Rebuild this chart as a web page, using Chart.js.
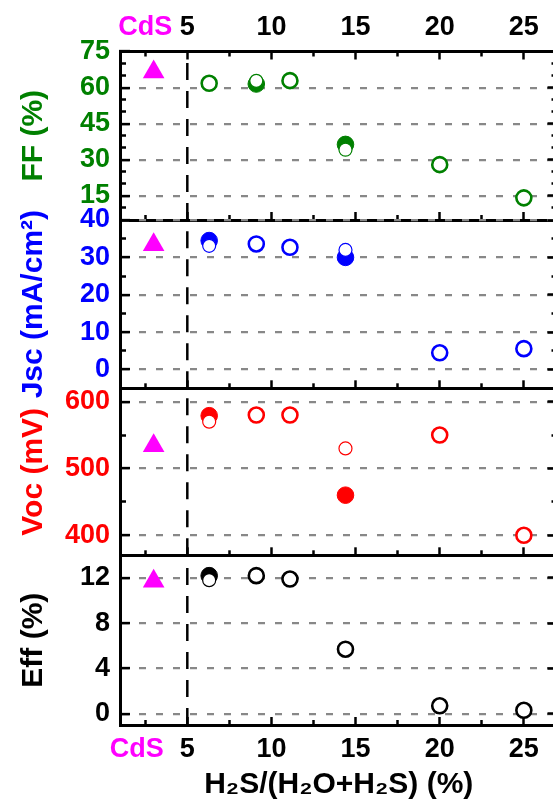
<!DOCTYPE html>
<html>
<head>
<meta charset="utf-8">
<script src="https://cdn.jsdelivr.net/npm/chart.js@4.4.0/dist/chart.umd.min.js"></script>
<style>
  html, body { margin: 0; padding: 0; background: #fff; overflow: hidden; width: 553px; height: 805px; }
  canvas { position: absolute; left: 0; top: 0; }
</style>
</head>
<body>
<canvas id="ffChart" width="570" height="805"></canvas>
<canvas id="jscChart" width="570" height="805"></canvas>
<canvas id="vocChart" width="570" height="805"></canvas>
<canvas id="effChart" width="570" height="805"></canvas>
<script>
// sample positions, H2S/(H2O+H2S) in %
const xPos = [6.3, 9.1, 11.1, 14.4, 20, 25];
const cdsX = 3;       // CdS reference, left of the cut
const cutX = 5;

// FF (%)
const ffOpen   = [61.8, null, 62.9, null, 28, 14.2];
const ffFilled = [null, 61.5, null, 36.4, null, null];
const ffThin   = [null, 62.8, null, 34.2, null, null];
const ffCdS = 66.5;

// Jsc (mA/cm2)
const jscOpen   = [null, 33.6, 32.7, null, 4.5, 5.6];
const jscFilled = [34.5, null, null, 30.0, null, null];
const jscThin   = [33.1, null, null, 32.0, null, null];
const jscCdS = 33.4;

// Voc (mV)
const vocOpen   = [null, 580, 580, null, 550, 400];
const vocFilled = [579, null, null, 460, null, null];
const vocThin   = [570, null, null, 530, null, null];
const vocCdS = 534;

// Eff (%)
const effOpen   = [null, 12.2, 11.9, 5.7, 0.7, 0.3];
const effFilled = [12.2, null, null, null, null, null];
const effThin   = [11.8, null, null, null, null, null];
const effCdS = 11.7;

// ticks
const xMajor = [5, 10, 15, 20, 25];
const xMinor = [2.5, 7.5, 12.5, 17.5, 22.5];
const cdsTopX = 2.5, cdsBottomX = 2;
const ffTicks = [15, 30, 45, 60, 75],  ffMinor = [10, 20, 25, 35, 40, 50, 55, 65, 70];
const jscTicks = [0, 10, 20, 30, 40],  jscMinor = [5, 15, 25, 35];
const vocTicks = [400, 500, 600],      vocMinor = [450, 550];
const effTicks = [0, 4, 8, 12],        effMinor = [];

const W = 570, H = 805;
const PLOT_LEFT = 120, PLOT_RIGHT = 559.5;
const MAGENTA = "#ff00ff";
const NONE = "rgba(0,0,0,0)";

Chart.defaults.font.family = "'Liberation Sans', Arial, sans-serif";
Chart.defaults.font.weight = "bold";

const pts = arr => arr.map((y, i) => ({ x: xPos[i], y: y })).filter(p => p.y !== null);
const setTicks = vals => s => { s.ticks = vals.map(v => ({ value: v })); };

function makePanel(id, p) {
  const datasets = [
    { data: pts(p.thin), pointRadius: 6.5, borderWidth: 1.2, borderColor: p.color, backgroundColor: "#fff" },
    { data: pts(p.open), pointRadius: 7.5, borderWidth: 2.6, borderColor: p.color, backgroundColor: "#fff" },
    { data: pts(p.filled), pointRadius: 8.3, borderWidth: 1, borderColor: p.color, backgroundColor: p.color },
    { data: [{ x: cdsX, y: p.cds }], pointStyle: "triangle", pointRadius: 12.5, borderWidth: 0, backgroundColor: MAGENTA },
    { data: [{ x: cutX, y: p.min }, { x: cutX, y: p.max }], showLine: true, pointRadius: 0,
      borderColor: "#000", borderWidth: 2.5, borderDash: [17, 11] }
  ].map(d => Object.assign({ xAxisID: "x", yAxisID: "y" }, d));

  const scales = {
    x: {
      type: "linear", position: "bottom", min: 1, max: 27, weight: 1,
      afterBuildTicks: setTicks(p.last ? [cdsBottomX].concat(xMajor) : xMajor),
      afterFit: s => { s.height = p.last ? H - p.bottom : 0; },
      grid: { drawOnChartArea: false, tickLength: -8, tickWidth: 2.5,
              tickColor: c => (c.tick && c.tick.value === cdsBottomX) ? NONE : "#000" },
      border: { width: 3, color: "#000" },
      ticks: { display: !!p.last, autoSkip: false, maxRotation: 0, padding: 16, font: { size: 27 },
               color: c => (c.tick && c.tick.value === cdsBottomX) ? MAGENTA : "#000",
               callback: v => v === cdsBottomX ? "CdS" : v },
      title: { display: !!p.last, text: "H₂S/(H₂O+H₂S) (%)", color: "#000",
               font: { size: 30 }, padding: { top: 0, bottom: 2 } }
    },
    xMinor: {
      type: "linear", position: "bottom", min: 1, max: 27, weight: 0,
      afterBuildTicks: setTicks(xMinor), afterFit: s => { s.height = 0; },
      grid: { drawOnChartArea: false, tickLength: -5, tickWidth: 2.5, tickColor: "#000" },
      border: { display: false }, ticks: { display: false }
    },
    y: {
      type: "linear", position: "left", min: p.min, max: p.max, weight: 1,
      afterBuildTicks: setTicks(p.ticks), afterFit: s => { s.width = PLOT_LEFT; },
      grid: { color: "#888888", lineWidth: 2.2, tickLength: -10, tickWidth: 2.5, tickColor: "#000", tickBorderDash: [] },
      border: { width: 3, color: "#000", dash: [7, 10] },
      ticks: { color: p.color, font: { size: 27 }, padding: 20 },
      title: { display: true, text: p.title, color: p.color, font: { size: 30 }, padding: { top: 16, bottom: 0 } }
    },
    yR: {
      type: "linear", position: "right", min: p.min, max: p.max, weight: 1,
      afterBuildTicks: setTicks(p.ticks), afterFit: s => { s.width = 0; },
      grid: { drawOnChartArea: false, tickLength: -10, tickWidth: 2.5, tickColor: "#000" },
      border: { width: 3, color: "#000" }, ticks: { display: false }
    }
  };

  if (p.minor.length) {
    scales.yMinor = {
      type: "linear", position: "left", min: p.min, max: p.max, weight: 0,
      afterBuildTicks: setTicks(p.minor), afterFit: s => { s.width = 0; },
      grid: { drawOnChartArea: false, tickLength: -6, tickWidth: 2.5, tickColor: "#000" },
      border: { display: false }, ticks: { display: false }
    };
    scales.yRMinor = {
      type: "linear", position: "right", min: p.min, max: p.max, weight: 0,
      afterBuildTicks: setTicks(p.minor), afterFit: s => { s.width = 0; },
      grid: { drawOnChartArea: false, tickLength: -6, tickWidth: 2.5, tickColor: "#000" },
      border: { display: false }, ticks: { display: false }
    };
  }

  if (p.first) {
    scales.xTop = {
      type: "linear", position: "top", min: 1, max: 27, weight: 1,
      afterBuildTicks: setTicks([cdsTopX].concat(xMajor)),
      afterFit: s => { s.height = p.top; },
      grid: { drawOnChartArea: false, tickLength: -8, tickWidth: 2.5,
              tickColor: c => (c.tick && c.tick.value === cdsTopX) ? NONE : "#000" },
      border: { width: 3, color: "#000" },
      ticks: { autoSkip: false, maxRotation: 0, padding: 16, font: { size: 27 },
               color: c => (c.tick && c.tick.value === cdsTopX) ? MAGENTA : "#000",
               callback: v => v === cdsTopX ? "CdS" : v }
    };
    scales.xTopMinor = {
      type: "linear", position: "top", min: 1, max: 27, weight: 0,
      afterBuildTicks: setTicks(xMinor), afterFit: s => { s.height = 0; },
      grid: { drawOnChartArea: false, tickLength: -5, tickWidth: 2.5, tickColor: "#000" },
      border: { display: false }, ticks: { display: false }
    };
  }

  return new Chart(document.getElementById(id).getContext("2d"), {
    type: "scatter",
    data: { datasets: datasets },
    options: {
      responsive: false,
      animation: false,
      events: [],
      layout: { padding: { left: 0, right: W - PLOT_RIGHT,
                           top: p.first ? 0 : p.top,
                           bottom: p.last ? 0 : H - p.bottom } },
      plugins: { legend: { display: false }, tooltip: { enabled: false } },
      scales: scales
    }
  });
}

makePanel("ffChart", { first: true, top: 51.5, bottom: 220, min: 5, max: 75, color: "#008000",
  title: "FF (%)", ticks: ffTicks, minor: ffMinor,
  open: ffOpen, filled: ffFilled, thin: ffThin, cds: ffCdS });
makePanel("jscChart", { top: 220, bottom: 388.3, min: -5, max: 40, color: "#0000ff",
  title: "Jsc (mA/cm²)", ticks: jscTicks, minor: jscMinor,
  open: jscOpen, filled: jscFilled, thin: jscThin, cds: jscCdS });
makePanel("vocChart", { top: 388.3, bottom: 555.3, min: 370, max: 620, color: "#ff0000",
  title: "Voc (mV)", ticks: vocTicks, minor: vocMinor,
  open: vocOpen, filled: vocFilled, thin: vocThin, cds: vocCdS });
makePanel("effChart", { last: true, top: 555.3, bottom: 725, min: -1, max: 14, color: "#000000",
  title: "Eff (%)", ticks: effTicks, minor: effMinor,
  open: effOpen, filled: effFilled, thin: effThin, cds: effCdS });
</script>
</body>
</html>
